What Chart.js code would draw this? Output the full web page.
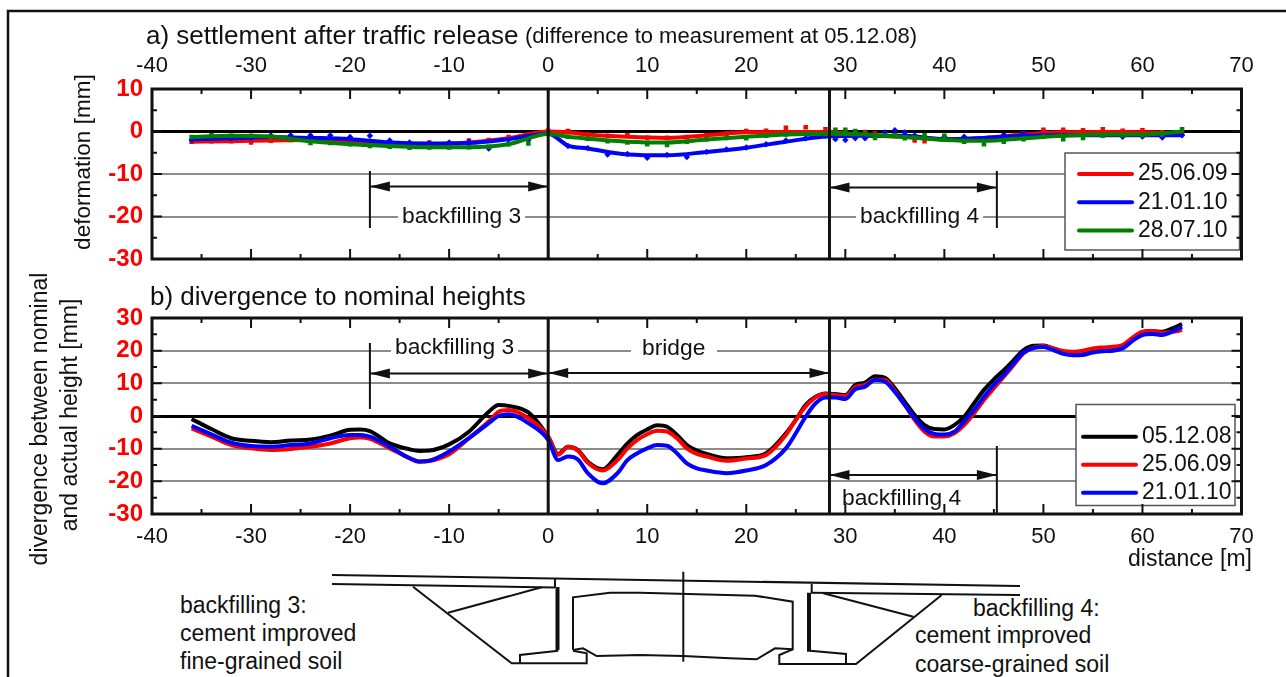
<!DOCTYPE html>
<html>
<head>
<meta charset="utf-8">
<title>settlement after traffic release</title>
<script src="https://cdn.jsdelivr.net/npm/chart.js@4/dist/chart.umd.min.js"></script>
<style>
    html, body { margin:0; padding:0; background:#fff; overflow:hidden; }
    #page { position:relative; width:1286px; height:677px; overflow:hidden; }
    #sketch { position:absolute; left:0; top:0; }
    #sketch text { font-family:"Liberation Sans", Arial, sans-serif; font-size:23px; fill:#111; dominant-baseline:middle; }
    canvas { position:absolute; left:0; }
    #chartA { top:0; }
    #chartB { top:265px; }
</style>
</head>
<body>
<div id="page">
    <svg id="sketch" width="1286" height="677" fill="none" stroke="#111" stroke-width="2">
        <!-- outer border -->
        <path d="M8 677 V11 H1286" stroke-width="2.5"/>
        <!-- bridge cross section -->
        <path d="M332 575 L1020 586"/>
        <path d="M332 584 L555 587.5 M811 592.7 L1020 595"/>
        <path d="M555 578 V587.5 M811.7 584 V592.7 M683.3 571.7 V661.7"/>
        <path d="M557.5 587 V650 M809 592.7 V651.7" stroke-width="4"/>
        <path d="M413 586.7 L511.7 663.3 H586.7 V653.3 L573 650.7 M520 663 V655 L558.3 650.7"/>
        <path d="M448 612.7 L541.7 587.3"/>
        <path d="M573 650 V597.3 L610 592.7 H640 L755 595.7 L792.7 601.7 V649.3 L775 648.3 L756.7 659.3 L730 658.3 L683 656 L640 655 L596.7 656 L583 648.3 L573 650"/>
        <path d="M792.7 649.3 L779.3 655 V664 H846 V654 L810 650.7"/>
        <path d="M941.7 595 L856 664 H846"/>
        <path d="M913.3 616.7 L823.3 593.3"/>
        <text x="180" y="607" stroke="none">backfilling 3:</text>
        <text x="180" y="635" stroke="none">cement improved</text>
        <text x="180" y="663" stroke="none">fine-grained soil</text>
        <text x="973" y="610" stroke="none">backfilling 4:</text>
        <text x="915" y="637" stroke="none">cement improved</text>
        <text x="915" y="666" stroke="none">coarse-grained soil</text>
    </svg>
    <canvas id="chartA" width="1286" height="283"></canvas>
    <canvas id="chartB" width="1286" height="329"></canvas>
</div>

<script>
// ---------- Data a) settlement, smoothed lines ----------
var aLineX = [-36,-32,-28,-24,-20,-16,-12,-8,-4,0,2,4,8,12,16,20,24,28,32,36,40,44,48,52,56,60,64];
var aLineRed = [-2.4,-2.3,-2.1,-2.0,-2.3,-2.7,-3.0,-2.6,-1.6,0.0,-0.2,-0.7,-1.25,-1.5,-0.9,-0.2,-0.1,-0.1,-0.9,-1.25,-1.8,-1.5,-0.7,-0.2,-0.1,-0.2,-0.5];
var aLineBlue = [-1.8,-1.6,-1.3,-1.5,-1.8,-2.6,-2.8,-2.7,-1.8,-0.5,-3.3,-4.0,-5.4,-5.6,-4.8,-3.8,-2.4,-1.2,-1.0,-1.0,-1.8,-1.5,-1.0,-0.9,-0.9,-0.9,-0.9];
var aLineGreen = [-1.3,-1.0,-1.2,-2.3,-3.0,-3.4,-3.7,-3.7,-3.0,-0.6,-1.25,-1.7,-2.4,-2.6,-1.9,-1.25,-0.7,-0.5,-0.7,-1.3,-2.0,-2.2,-1.6,-1.0,-0.7,-0.7,0.0];

// ---------- Data a) settlement, measured points ----------
var aMarkX = [-36,-34,-32,-30,-28,-26,-24,-22,-20,-18,-16,-14,-12,-10,-8,-6,-4,-2,0,
    2,4,6,8,10,12,14,16,18,20,22,24,26,28,
    29,30,31,32,33,34,35,36,37,38,
    40,42,44,46,48,50,52,54,56,58,60,62,64];
var aMarkRed = [-2.4,-2.3,-2.3,-2.6,-2.2,-2.0,-2.0,-2.1,-2.4,-2.6,-2.9,-3.0,-2.6,-2.8,-2.1,-2.0,-1.3,-0.7,0.2,
    0.1,-0.7,-1,-0.9,-1.5,-1.5,-1.3,-0.9,-0.5,0.1,0.2,0.9,1,0.5,
    -0.1,-0.5,-0.3,-0.1,-0.5,-0.6,-0.9,-0.9,-2.1,-2.3,
    -1.5,-1.8,-1.6,-0.9,-0.5,0.4,0.4,0.3,0.5,0.2,0.3,-0.2,-0.5];
var aMarkBlue = [-2,-1.6,-1.6,-1.6,-0.9,-0.9,-0.9,-0.9,-1.3,-1.0,-2.1,-2.6,-2.8,-2.6,-2.4,-4.0,-2.8,-2,-0.5,
    -3.4,-3.9,-5.4,-5.3,-6.2,-5.5,-6,-4.8,-4.2,-3.75,-3,-2.1,-1.6,-1.0,
    -1.8,-2,-1.6,-1.6,-1.3,-0.2,0.3,-0.2,-0.9,-1.25,
    -1.25,-1.25,-1.8,-0.9,-0.5,-0.9,-1,-1,-0.9,-1.25,-1.2,-1.4,-0.9];
var aMarkGreen = [-1.3,-0.9,-1.0,-1.0,-1.3,-1.8,-2.7,-2.7,-3.0,-3.4,-3.6,-3.8,-3.75,-3.75,-3.7,-3.6,-3.0,-2.8,-0.5,
    -1.25,-1.7,-2.3,-2.6,-3,-3.2,-2.4,-1.8,-1.5,-1.6,-1,-0.7,-0.5,-0.5,
    0.4,0.4,0.1,-0.5,-1.5,-1,-0.9,-1.6,-1.5,-0.9,
    -1,-2.4,-3,-2.4,-1.8,-1.2,-1.8,-1.5,-1,-0.9,-0.9,-0.7,0.5];

// ---------- Data b) divergence to nominal heights ----------
var bX = [-36,-34,-32,-30,-28,-26,-24,-22,-20,-19,-18,-16,-14,-13,-12,-10,-8,-6,-5,-4,-2,0,
    1,2,3,4,5.5,7,8,9,10,11,12,13,14,15,16,18,20,22,24,25,26,27,28,
    29,30,31,32,33,34,35,36,37,38,39,40,41,42,43,44,45,46,47,48,49,50,51,52,53,54,55,56,57,58,59,60,61,62,63,64];
var bBlack = [-0.9,-4,-6.8,-7.6,-8,-7.5,-7.2,-6,-4.2,-4.1,-4.6,-8.4,-10.2,-10.7,-10.6,-8.7,-4.8,1.3,3.4,3.1,1.1,-6.3,
    -11.6,-9.4,-10.4,-14,-16.3,-11.9,-8.4,-5.8,-4.1,-2.8,-3.3,-5.8,-8.9,-10.6,-11.6,-12.9,-12.6,-11.4,-5.3,-1.2,3.4,5.9,6.9,
    6.7,6.4,9.5,10.2,12.2,11.7,8.5,4.4,0.3,-2.8,-4,-4.1,-2.8,-0.2,3.9,8,11.2,14,17.1,20.2,21.5,21.6,20.7,19.7,19.4,19.4,20,20.5,20.6,21.2,23.2,25.6,26,25.8,26.8,28.1];
var bRed = [-3.8,-6.3,-8.9,-9.9,-10.4,-10.1,-9.4,-8.4,-6.8,-6.6,-7,-9.9,-12.9,-14,-13.8,-11.7,-6.8,-1.7,1.3,1.8,-0.7,-6.3,
    -11.9,-9.4,-10.6,-14.3,-16.7,-13.5,-9.9,-7.3,-5.6,-4.5,-4.8,-6.8,-9.9,-11.6,-12.4,-13.7,-13,-11.9,-5.8,-1.2,2.9,5.7,6.7,
    6.4,6.1,8.8,9.5,11.2,11,7.7,3.4,-1.2,-4.8,-6.3,-6.3,-5.3,-2.8,0.8,4.9,8.5,12,15.6,19.2,20.9,21.4,20.7,19.9,19.7,20,20.7,21,21.2,21.7,24,25.8,26,25.5,25.8,26.3];
var bBlue = [-3,-5.6,-8.2,-9.2,-9.4,-8.9,-8.4,-6.8,-5.8,-5.8,-6.3,-9.4,-12.9,-13.9,-13.7,-10.9,-6.8,-2.2,0,0.5,-2.2,-7.3,
    -13.5,-12.4,-13.3,-17.5,-20.6,-17.5,-13.5,-11.4,-9.9,-8.9,-9.1,-11.4,-14.5,-16,-16.7,-17.5,-16.7,-15,-9.9,-5.3,-0.2,3.9,5.7,
    5.7,5.2,8.2,9,11,10.5,7.4,3.4,-0.7,-4,-5.5,-5.7,-4.8,-1.7,1.8,5.9,9.5,12.5,16.1,19.4,20.8,21.1,20.2,19,18.6,18.7,19.4,19.8,20,20.7,23,24.8,25.1,24.8,25.8,27.3];

// ---------- Labels and section limits ----------
var aLegend = ['25.06.09', '21.01.10', '28.07.10'];
var bLegend = ['05.12.08', '25.06.09', '21.01.10'];
var xMin = -40, xMax = 70;
var bridgeStart = 0, bridgeEnd = 28.4, fill3Start = -18, fill4End = 45.3;

var red = '#ff0000', blue = '#0000ff', green = '#008000', black = '#000000';
var font = '"Liberation Sans", Arial, sans-serif';

function points(xs, ys) {
    return xs.map(function(x, i) { return {x: x, y: ys[i]}; });
}
function lineSet(xs, ys, color, label, order, width) {
    return {label: label, data: points(xs, ys), borderColor: color, backgroundColor: color,
        borderWidth: width, pointRadius: 0, cubicInterpolationMode: 'monotone', order: order};
}
function markSet(xs, ys, color, style, order) {
    return {data: points(xs, ys), showLine: false, borderColor: color, backgroundColor: color,
        pointStyle: style, pointRadius: 3.2, pointBorderWidth: 0, order: order};
}

function scaleOptions(yMin, yMax, xPos, xHeight, xPad) {
    return {
        x: {
            type: 'linear', position: xPos, min: xMin, max: xMax,
            afterFit: function(s) { s.height = xHeight; },
            grid: {display: false, drawTicks: false},
            border: {display: false},
            ticks: {stepSize: 10, padding: xPad, maxRotation: 0, autoSkip: false, color: '#111', font: {family: font, size: 22}}
        },
        y: {
            min: yMin, max: yMax,
            afterFit: function(s) { s.width = 152; },
            grid: {
                drawTicks: false,
                color: function(c) { return c.tick.value === 0 ? black : '#8c8c8c'; },
                lineWidth: function(c) { return c.tick.value === 0 ? 3 : 2; }
            },
            border: {display: false},
            ticks: {stepSize: 10, padding: 9, color: red, font: {family: font, size: 24, weight: 'bold'}}
        }
    };
}

// ---------- Drawing helpers for the plugins ----------
function text(ctx, str, x, y, size, opts) {
    opts = opts || {};
    ctx.save();
    ctx.font = size + 'px ' + font;
    ctx.fillStyle = '#111';
    ctx.textBaseline = 'middle';
    ctx.textAlign = 'left';
    if (opts.box) {
        ctx.save();
        ctx.fillStyle = '#fff';
        ctx.fillRect(x - 4, y - 13, ctx.measureText(str).width + 8, 26);
        ctx.restore();
    }
    if (opts.rotate) {
        ctx.translate(x, y);
        ctx.rotate(-Math.PI / 2);
        ctx.textAlign = 'center';
        ctx.fillText(str, 0, 0);
    } else {
        ctx.fillText(str, x, y);
    }
    ctx.restore();
}
function vline(ctx, x, y1, y2, w) {
    ctx.save();
    ctx.strokeStyle = '#111';
    ctx.lineWidth = w;
    ctx.beginPath(); ctx.moveTo(x, y1); ctx.lineTo(x, y2); ctx.stroke();
    ctx.restore();
}
function arrow(ctx, x1, x2, y) {
    ctx.save();
    ctx.strokeStyle = '#111';
    ctx.fillStyle = '#111';
    ctx.lineWidth = 2;
    ctx.beginPath(); ctx.moveTo(x1, y); ctx.lineTo(x2, y); ctx.stroke();
    [[x1, 20], [x2, -20]].forEach(function(h) {
        ctx.beginPath();
        ctx.moveTo(h[0], y);
        ctx.lineTo(h[0] + h[1], y - 5);
        ctx.lineTo(h[0] + h[1], y + 5);
        ctx.closePath();
        ctx.fill();
    });
    ctx.restore();
}
function legendBox(ctx, labels, colors, box) {
    ctx.save();
    ctx.fillStyle = '#fff';
    ctx.strokeStyle = '#555';
    ctx.lineWidth = 1.5;
    ctx.fillRect(box.x, box.y, box.w, box.h);
    ctx.strokeRect(box.x, box.y, box.w, box.h);
    labels.forEach(function(label, i) {
        var y = box.first + i * box.step;
        ctx.strokeStyle = colors[i];
        ctx.lineWidth = 4;
        ctx.lineCap = 'round';
        ctx.beginPath(); ctx.moveTo(box.lineX, y); ctx.lineTo(box.lineX + 53, y); ctx.stroke();
        text(ctx, label, box.lineX + 59, y, 23);
    });
    ctx.restore();
}
function frameAndTicks(chart) {
    var ctx = chart.ctx, a = chart.chartArea, v, major, len, px;
    ctx.save();
    ctx.strokeStyle = '#111';
    ctx.lineWidth = 2;
    ctx.beginPath();
    for (v = xMin; v <= xMax; v += 5) {
        major = v % 10 === 0;
        len = major ? 10 : 5;
        px = chart.scales.x.getPixelForValue(v);
        ctx.moveTo(px, a.top); ctx.lineTo(px, a.top + len);
        ctx.moveTo(px, a.bottom); ctx.lineTo(px, a.bottom - len);
    }
    for (v = chart.scales.y.min; v <= chart.scales.y.max; v += 5) {
        major = v % 10 === 0;
        len = major ? 10 : 5;
        px = chart.scales.y.getPixelForValue(v);
        ctx.moveTo(a.left, px); ctx.lineTo(a.left + len, px);
        ctx.moveTo(a.right, px); ctx.lineTo(a.right - len, px);
    }
    ctx.stroke();
    ctx.lineWidth = 3;
    ctx.strokeRect(a.left, a.top, a.right - a.left, a.bottom - a.top);
    ctx.restore();
}

// ---------- Chart a ----------
var overlayA = {
    id: 'overlayA',
    afterDatasetsDraw: function(chart) {
        var ctx = chart.ctx, a = chart.chartArea, sx = chart.scales.x;
        var x0 = sx.getPixelForValue(bridgeStart), x1 = sx.getPixelForValue(bridgeEnd);
        var xf3 = sx.getPixelForValue(fill3Start), xf4 = sx.getPixelForValue(fill4End);
        vline(ctx, x0, a.top, a.bottom, 3);
        vline(ctx, x1, a.top, a.bottom, 3);
        vline(ctx, xf3, 171, 228, 2);
        vline(ctx, xf4, 171, 228, 2);
        arrow(ctx, xf3, x0, 186.5);
        arrow(ctx, x1, xf4, 187.5);
        text(ctx, 'backfilling 3', 402, 217, 22.8, {box: true});
        text(ctx, 'backfilling 4', 860, 217, 22.8, {box: true});
        legendBox(ctx, aLegend, [red, blue, green], {x: 1065, y: 153, w: 174.5, h: 97, lineX: 1079, first: 174, step: 28.3});
        frameAndTicks(chart);
        text(ctx, 'a) settlement after traffic release', 146, 37, 26);
        text(ctx, '(difference to measurement at 05.12.08)', 525, 37, 22);
        text(ctx, 'deformation [mm]', 84, 162, 22.6, {rotate: true});
    }
};

var chartA = new Chart(document.getElementById('chartA').getContext('2d'), {
    type: 'line',
    data: {
        datasets: [
            lineSet(aLineX, aLineRed, red, aLegend[0], 5, 4),
            markSet(aMarkX, aMarkRed, red, 'rect', 6),
            lineSet(aLineX, aLineBlue, blue, aLegend[1], 3, 4),
            markSet(aMarkX, aMarkBlue, blue, 'rectRot', 4),
            lineSet(aLineX, aLineGreen, green, aLegend[2], 1, 4),
            markSet(aMarkX, aMarkGreen, green, 'rect', 2)
        ]
    },
    options: {
        responsive: false, animation: false,
        parsing: false,
        layout: {padding: {left: 0, right: 44.5, top: 0, bottom: 24}},
        plugins: {legend: {display: false}, tooltip: {enabled: false}},
        scales: scaleOptions(-30, 10, 'top', 89, 10)
    },
    plugins: [overlayA]
});

// ---------- Chart b ----------
var overlayB = {
    id: 'overlayB',
    afterDatasetsDraw: function(chart) {
        var ctx = chart.ctx, a = chart.chartArea, sx = chart.scales.x;
        var x0 = sx.getPixelForValue(bridgeStart), x1 = sx.getPixelForValue(bridgeEnd);
        var xf3 = sx.getPixelForValue(fill3Start), xf4 = sx.getPixelForValue(fill4End);
        var top = 265;
        vline(ctx, x0, a.top, a.bottom, 3);
        vline(ctx, x1, a.top, a.bottom, 3);
        vline(ctx, xf3, 343 - top, 409 - top, 2);
        vline(ctx, xf4, 446 - top, a.bottom, 2);
        arrow(ctx, xf3, x0, 373.5 - top);
        arrow(ctx, x0, x1, 373 - top);
        arrow(ctx, x1, xf4, 475 - top);
        text(ctx, 'backfilling 3', 395, 348 - top, 22.8, {box: true});
        ctx.save();
        ctx.fillStyle = '#fff';
        ctx.fillRect(631, 340 - top, 86, 20);
        ctx.restore();
        text(ctx, 'bridge', 642, 349 - top, 22.8);
        text(ctx, 'backfilling 4', 842, 499 - top, 22.8);
        legendBox(ctx, bLegend, [black, red, blue], {x: 1076, y: 404.5 - top, w: 159, h: 101, lineX: 1083, first: 436.7 - top, step: 28});
        frameAndTicks(chart);
        text(ctx, 'b) divergence to nominal heights', 150, 298 - top, 26);
        text(ctx, 'distance [m]', 1128, 560 - top, 23);
        text(ctx, 'divergence between nominal', 41, 419 - top, 23, {rotate: true});
        text(ctx, 'and actual height [mm]', 71, 415 - top, 23, {rotate: true});
    }
};

var chartB = new Chart(document.getElementById('chartB').getContext('2d'), {
    type: 'line',
    data: {
        datasets: [
            lineSet(bX, bBlack, black, bLegend[0], 3, 4),
            lineSet(bX, bRed, red, bLegend[1], 2, 4),
            lineSet(bX, bBlue, blue, bLegend[2], 1, 4)
        ]
    },
    options: {
        responsive: false, animation: false,
        parsing: false,
        layout: {padding: {left: 0, right: 44.5, top: 53, bottom: 0}},
        plugins: {legend: {display: false}, tooltip: {enabled: false}},
        scales: scaleOptions(-30, 30, 'bottom', 80, 10)
    },
    plugins: [overlayB]
});
</script>
</body>
</html>
